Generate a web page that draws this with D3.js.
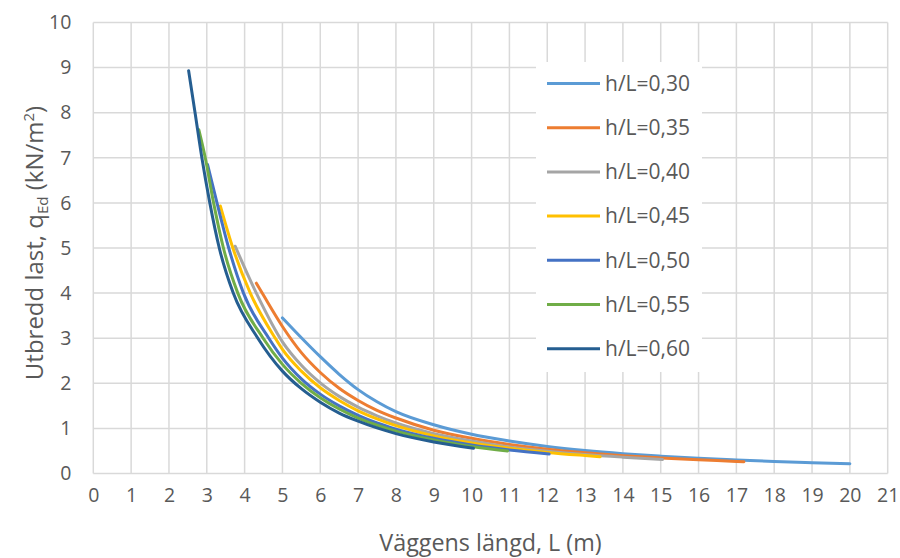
<!DOCTYPE html>
<html>
<head>
<meta charset="utf-8">
<script src="https://cdn.jsdelivr.net/npm/d3@7"></script>
<style>
  html, body { margin: 0; padding: 0; background: #fff; }
  svg { display: block; font-family: "Open Sans", "Noto Sans", sans-serif; }
</style>
</head>
<body>
<svg id="chart" width="900" height="558"></svg>
<script>
// Distributed load vs wall length, one curve per h/L ratio
const seriesNames = ["h/L=0,30", "h/L=0,35", "h/L=0,40", "h/L=0,45", "h/L=0,50", "h/L=0,55", "h/L=0,60"];
const seriesColors = ["#5B9BD5", "#ED7D31", "#A5A5A5", "#FFC000", "#4472C4", "#70AD47", "#255E91"];

const L30 = [5, 5.5, 6, 6.5, 7, 7.5, 8, 9, 10, 11, 12, 13, 14, 15, 16, 17, 18, 19, 20];
const q30 = [3.45, 3.01, 2.59, 2.20, 1.86, 1.59, 1.37, 1.08, 0.87, 0.72, 0.60, 0.51, 0.44, 0.385, 0.338, 0.30, 0.267, 0.24, 0.217];

const L35 = [4.31, 4.5, 5, 5.5, 6, 6.5, 7, 7.5, 8, 9, 10, 11, 12, 13, 14, 15, 16, 17, 17.2];
const q35 = [4.22, 3.95, 3.26, 2.68, 2.24, 1.89, 1.62, 1.40, 1.23, 0.96, 0.78, 0.645, 0.54, 0.46, 0.395, 0.345, 0.303, 0.268, 0.26];

const L40 = [3.75, 4.31, 5, 5.5, 6, 6.5, 7, 7.5, 8, 9, 10, 11, 12, 13, 14, 15.05];
const q40 = [5.04, 4.0, 2.92, 2.40, 2.01, 1.71, 1.47, 1.28, 1.12, 0.885, 0.72, 0.59, 0.495, 0.42, 0.362, 0.31];

const L45 = [3.36, 3.69, 4.15, 4.81, 5, 5.5, 6, 6.5, 7, 7.5, 8, 9, 10, 11, 12, 13, 13.4];
const q45 = [5.93, 5.0, 4.0, 3.0, 2.75, 2.27, 1.90, 1.62, 1.39, 1.21, 1.06, 0.835, 0.675, 0.558, 0.468, 0.398, 0.372];

const L50 = [3.02, 3.27, 3.58, 3.97, 4.64, 5, 5.5, 6, 6.5, 7, 7.5, 8, 9, 10, 11, 12.05];
const q50 = [6.85, 6.0, 5.0, 4.0, 3.0, 2.56, 2.10, 1.76, 1.50, 1.29, 1.12, 0.985, 0.78, 0.63, 0.52, 0.43];

const L55 = [2.79, 2.96, 3.18, 3.44, 3.82, 4.49, 5, 5.5, 6, 6.5, 7, 7.5, 8, 9, 10, 10.95];
const q55 = [7.62, 7.0, 6.0, 5.0, 4.0, 3.0, 2.42, 2.0, 1.68, 1.43, 1.23, 1.07, 0.94, 0.745, 0.60, 0.50];

const L60 = [2.52, 2.69, 2.87, 3.08, 3.33, 3.70, 4.35, 5, 5.5, 6, 6.5, 7, 7.5, 8, 9, 10.05];
const q60 = [8.93, 8.0, 7.0, 6.0, 5.0, 4.0, 3.0, 2.27, 1.88, 1.58, 1.34, 1.16, 1.01, 0.885, 0.70, 0.56];

const xTicks = d3.range(0, 22);   // 0 … 21
const yTicks = d3.range(0, 11);   // 0 … 10

const xLengths = [L30, L35, L40, L45, L50, L55, L60];
const yLoads = [q30, q35, q40, q45, q50, q55, q60];

const series = seriesNames.map((name, i) => ({
  name,
  color: seriesColors[i],
  points: xLengths[i].map((L, j) => ({ L, q: yLoads[i][j] }))
}));

const svg = d3.select("#chart");
const margin = { left: 93.3, right: 900 - 887.7, top: 22.5, bottom: 558 - 473.5 };
const width = 900 - margin.left - margin.right;
const height = 558 - margin.top - margin.bottom;

const x = d3.scaleLinear().domain([0, 21]).range([margin.left, margin.left + width]);
const y = d3.scaleLinear().domain([0, 10]).range([margin.top + height, margin.top]);

const gridColor = "#D9D9D9";
const textColor = "#595959";

// Gridlines
const grid = svg.append("g");
grid.selectAll("line.h").data(yTicks).join("line")
  .attr("x1", x(0)).attr("x2", x(21))
  .attr("y1", d => y(d)).attr("y2", d => y(d))
  .attr("stroke", gridColor).attr("stroke-width", 1.5);
grid.selectAll("line.v").data(xTicks).join("line")
  .attr("y1", y(0)).attr("y2", y(10))
  .attr("x1", d => x(d)).attr("x2", d => x(d))
  .attr("stroke", gridColor).attr("stroke-width", 1.5);

// Axes (labels only; lines come from the grid)
const xAxis = svg.append("g")
  .attr("transform", `translate(0,${y(0)})`)
  .call(d3.axisBottom(x).tickValues(xTicks).tickSize(0).tickPadding(15).tickFormat(d3.format("d")));
xAxis.select(".domain").remove();
xAxis.selectAll("text").attr("font-size", 19.5).attr("fill", textColor)
  .attr("font-family", "'Open Sans', sans-serif");

const yAxis = svg.append("g")
  .attr("transform", `translate(${x(0)},0)`)
  .call(d3.axisLeft(y).tickValues(yTicks).tickSize(0).tickPadding(22).tickFormat(d3.format("d")));
yAxis.select(".domain").remove();
yAxis.selectAll("text").attr("font-size", 19.5).attr("fill", textColor)
  .attr("font-family", "'Open Sans', sans-serif");

// Axis titles
svg.append("text")
  .attr("x", x(10.5)).attr("y", 551)
  .attr("text-anchor", "middle")
  .attr("font-size", 23.3).attr("fill", textColor)
  .text("Väggens längd, L (m)");

const yTitle = svg.append("text")
  .attr("transform", `translate(43,243) rotate(-90)`)
  .attr("text-anchor", "middle")
  .attr("font-size", 24).attr("fill", textColor);
yTitle.append("tspan").text("Utbredd last, q");
yTitle.append("tspan").attr("font-size", 15).attr("dy", 5).text("Ed");
yTitle.append("tspan").attr("dy", -5).text(" (kN/m");
yTitle.append("tspan").attr("font-size", 15).attr("dy", -9).text("2");
yTitle.append("tspan").attr("dy", 9).text(")");

// Legend box (covers the grid behind it)
const legendTop = 83.5, legendStep = 44.2;
svg.append("rect")
  .attr("x", 536).attr("y", 62).attr("width", 166).attr("height", 310)
  .attr("fill", "#fff");

// Curves
const line = d3.line()
  .x(d => x(d.L)).y(d => y(d.q))
  .curve(d3.curveMonotoneX);

svg.append("g").selectAll("path").data(series).join("path")
  .attr("d", d => line(d.points))
  .attr("fill", "none")
  .attr("stroke", d => d.color)
  .attr("stroke-width", 3)
  .attr("stroke-linejoin", "round")
  .attr("stroke-linecap", "round");

// Legend entries
const legend = svg.append("g").selectAll("g").data(series).join("g")
  .attr("transform", (d, i) => `translate(0,${legendTop + i * legendStep})`);
legend.append("line")
  .attr("x1", 547).attr("x2", 600).attr("y1", 0).attr("y2", 0)
  .attr("stroke", d => d.color).attr("stroke-width", 3);
legend.append("text")
  .attr("x", 605).attr("y", 0).attr("dy", "0.35em")
  .attr("font-size", 21).attr("fill", textColor)
  .text(d => d.name);
</script>
</body>
</html>
